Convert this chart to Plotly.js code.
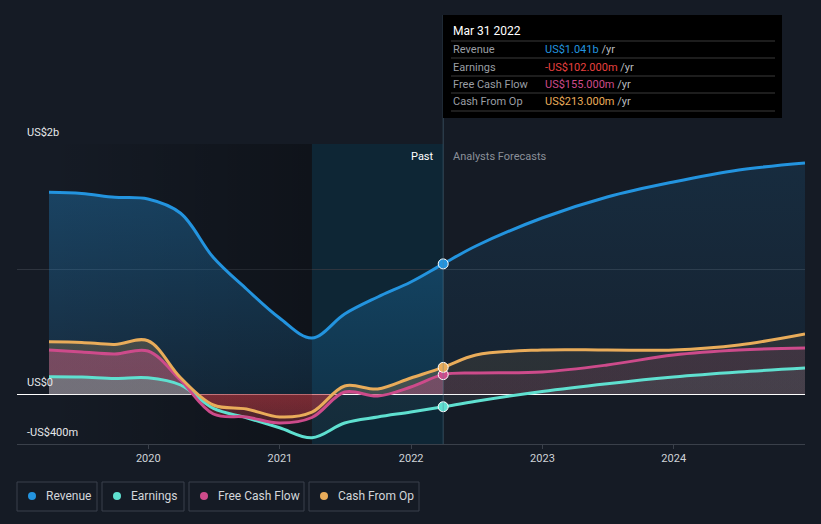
<!DOCTYPE html>
<html>
<head>
<meta charset="utf-8">
<script src="https://cdn.plot.ly/plotly-3.0.1.min.js"></script>
<style>
  html, body { margin: 0; padding: 0; background: #151b25; }
  #chart { width: 821px; height: 524px; }
</style>
</head>
<body>
<div id="chart"></div>
<script>
// ---------- data (US$ millions) ----------
const dates = ['2019-03-31','2019-06-30','2019-09-30','2019-12-31','2020-03-31','2020-06-30','2020-09-30','2020-12-31',
               '2021-03-31','2021-06-30','2021-09-30','2021-12-31','2022-03-31','2022-06-30','2022-12-31','2023-06-30',
               '2023-12-31','2024-06-30','2024-12-31'];
const revenue  = [1614,1604,1574,1560,1446,1092,840,608,448,640,776,896,1041,1184,1408,1576,1696,1792,1848];
const earnings = [138,136,125,130,72,-115,-190,-270,-350,-232,-184,-144,-102,-58,20,82,136,176,208];
const fcf      = [352,336,320,344,110,-160,-184,-232,-188,16,-16,56,155,168,176,232,312,352,368];
const cfo      = [418,413,397,426,130,-88,-120,-184,-145,64,40,128,213,312,352,352,352,392,480];
const pastEnd = 12;       // index of Mar 31 2022
const highlightStart = 8; // index of Mar 31 2021
const yearTicks = ['2020-01-01','2021-01-01','2022-01-01','2023-01-01','2024-01-01'];
const yearLabels = ['2020','2021','2022','2023','2024'];
const seriesNames = ['Revenue','Earnings','Free Cash Flow','Cash From Op'];
const tooltipDate = 'Mar 31 2022';
const tooltipValues = ['US$1.041b','-US$102.000m','US$155.000m','US$213.000m'];

// ---------- styling ----------
const C = {rev:'#2394df', earn:'#5fe0d0', fcf:'#cd4b8b', cfo:'#e9ac5a'};
const lineColors = [C.rev, C.earn, C.fcf, C.cfo];
const valueColors = ['#2394df','#e8403f','#cd4b8b','#e9ac5a'];
const L = 17, T = 144, W = 788, H = 300;
const px = x => (x - L) / W;
const py = y => (T + H - y) / H;

const past = a => a.slice(0, pastEnd + 1);
const fut = a => a.slice(pastEnd);

function gradFill(x, y, start, stop, scale) {
  return {x, y, type:'scatter', mode:'lines', line:{width:0, shape:'spline', smoothing:1},
    fill:'tozeroy', fillgradient:{type:'vertical', start, stop, colorscale:scale},
    hoverinfo:'skip', showlegend:false};
}
function stepScale(start, stop, neg0, neg1, pos) {
  const z = (0 - start) / (stop - start);
  return [[0, neg0], [z, neg1], [z, pos], [1, pos]];
}

const traces = [];
// dark past band (horizontal gradient)
traces.push({x:[dates[0], dates[highlightStart], dates[highlightStart], dates[0], dates[0]],
  y:[-400,-400,2000,2000,-400], type:'scatter', mode:'lines', line:{width:0}, fill:'toself',
  fillgradient:{type:'horizontal', colorscale:[[0,'rgba(0,0,0,0)'],[1,'rgba(0,0,0,0.3)']]},
  hoverinfo:'skip', showlegend:false});

// past fills
traces.push(gradFill(past(dates), past(revenue), 0, 1700, [[0,'rgba(35,148,223,0.13)'],[1,'rgba(35,148,223,0.34)']]));
traces.push(gradFill(past(dates), past(cfo), -400, 500,
  stepScale(-400, 500, 'rgba(190,45,55,0.12)', 'rgba(190,45,55,0.3)', 'rgba(233,172,90,0.22)')));
traces.push(gradFill(past(dates), past(fcf), -400, 500,
  stepScale(-400, 500, 'rgba(190,45,55,0.25)', 'rgba(190,45,55,0.42)', 'rgba(205,75,139,0.36)')));
traces.push(gradFill(past(dates), past(earnings), -400, 500,
  stepScale(-400, 500, 'rgba(150,170,180,0.04)', 'rgba(150,170,180,0.06)', 'rgba(110,160,155,0.45)')));
// forecast fills
traces.push(gradFill(fut(dates), fut(revenue), 0, 1900, [[0,'rgba(35,148,223,0.06)'],[1,'rgba(35,148,223,0.14)']]));
traces.push(gradFill(fut(dates), fut(cfo), -400, 500,
  stepScale(-400, 500, 'rgba(190,45,55,0.2)', 'rgba(190,45,55,0.3)', 'rgba(233,172,90,0.1)')));
traces.push(gradFill(fut(dates), fut(fcf), -400, 500,
  stepScale(-400, 500, 'rgba(190,45,55,0.2)', 'rgba(190,45,55,0.3)', 'rgba(205,75,139,0.12)')));
traces.push(gradFill(fut(dates), fut(earnings), -400, 500,
  stepScale(-400, 500, 'rgba(150,170,180,0.08)', 'rgba(150,170,180,0.1)', 'rgba(150,200,200,0.08)')));

// lines
const seriesData = [revenue, earnings, fcf, cfo];
[1,2,3,0].forEach(i => {
  traces.push({x:dates, y:seriesData[i], type:'scatter', mode:'lines',
    line:{color:lineColors[i], width:3, shape:'spline', smoothing:1},
    hoverinfo:'skip', showlegend:false});
});
// markers at Mar 31 2022
traces.push({x:seriesData.map(() => dates[pastEnd]), y:seriesData.map(s => s[pastEnd]),
  type:'scatter', mode:'markers',
  marker:{size:10, color:lineColors, line:{color:'#ffffff', width:1}},
  hoverinfo:'skip', showlegend:false});

// ---------- layout decorations ----------
const shapes = [
  {type:'rect', xref:'x', yref:'paper', x0:dates[highlightStart], x1:dates[pastEnd], y0:0, y1:1,
   fillcolor:'rgba(0,62,88,0.32)', line:{width:0}, layer:'below'},
  {type:'line', xref:'x', yref:'paper', x0:dates[pastEnd], x1:dates[pastEnd], y0:0, y1:py(15),
   line:{color:'rgba(90,130,150,0.45)', width:1}},
  {type:'rect', xref:'paper', yref:'paper', x0:px(443), x1:px(782), y0:py(118), y1:py(15),
   fillcolor:'#000000', line:{width:0}}
];
[41, 58, 76, 93, 111].forEach(y => shapes.push({type:'line', xref:'paper', yref:'paper',
  x0:px(451), x1:px(775), y0:py(y), y1:py(y), line:{color:'#3a3a3a', width:1}}));

const annotations = [];
const ann = (text, x, y, opts) => annotations.push(Object.assign({text, xref:'paper', yref:'paper',
  x:px(x), y:py(y), showarrow:false, xanchor:'left', yanchor:'middle',
  font:{family:'Roboto, sans-serif', size:11, color:'#e6e8ea'}}, opts || {}));

ann(tooltipDate, 451, 31, {font:{family:'Roboto, sans-serif', size:12, color:'#ffffff'}});
const rowY = [49, 67, 84, 101.5];
seriesNames.forEach((n, i) => {
  ann(n, 451, rowY[i], {font:{family:'Roboto, sans-serif', size:11, color:'#9a9ea4'}});
  ann('<span style="color:' + valueColors[i] + '">' + tooltipValues[i] + '</span> <span style="color:#b8bbbf">/yr</span>',
      543, rowY[i], {font:{family:'Roboto, sans-serif', size:11, color:'#b8bbbf'}});
});
ann('Past', 436, 156, {xanchor:'right', font:{family:'Roboto, sans-serif', size:11, color:'#ffffff'}});
ann('Analysts Forecasts', 451, 156, {font:{family:'Roboto, sans-serif', size:11, color:'#8b9099'}});
ann('US$2b', 25, 132);
ann('US$0', 25, 382);
ann('-US$400m', 25, 432);

// custom legend
const boxes = [[17,97],[102,184],[189,304],[309,419]];
seriesNames.forEach((n, i) => {
  const [a, b] = boxes[i];
  shapes.push({type:'rect', xref:'paper', yref:'paper', x0:px(a), x1:px(b), y0:py(511), y1:py(482),
    fillcolor:'rgba(0,0,0,0)', line:{color:'#3b414c', width:1}});
  shapes.push({type:'circle', xref:'paper', yref:'paper', xsizemode:'pixel', ysizemode:'pixel',
    xanchor:px(a + 15), yanchor:py(496), x0:-4, x1:4, y0:-4, y1:4,
    fillcolor:lineColors[i], line:{width:0}});
  ann(n, a + 27, 496, {font:{family:'Roboto, sans-serif', size:12, color:'#d3d6da'}});
});

const layout = {
  width:821, height:524,
  margin:{l:L, r:821 - L - W, t:T, b:524 - T - H, pad:0},
  paper_bgcolor:'#151b25', plot_bgcolor:'#151b25',
  showlegend:false,
  xaxis:{type:'date', range:['2019-01-01','2024-12-31'], tickvals:yearTicks, ticktext:yearLabels,
    showgrid:false, zeroline:false, showline:true, linecolor:'#3a404a', linewidth:1,
    ticks:'outside', ticklen:4, tickcolor:'#3a404a',
    tickfont:{family:'Roboto, sans-serif', size:11, color:'#cfd3d8'}, fixedrange:true},
  yaxis:{range:[-400, 2000], tickvals:[1000, 2000], showticklabels:false, ticks:'',
    showgrid:true, gridcolor:'#2e343e', gridwidth:1,
    zeroline:true, zerolinecolor:'#ffffff', zerolinewidth:1, showline:false, fixedrange:true},
  shapes, annotations
};

Plotly.newPlot('chart', traces, layout, {displayModeBar:false, staticPlot:true});
</script>
</body>
</html>
